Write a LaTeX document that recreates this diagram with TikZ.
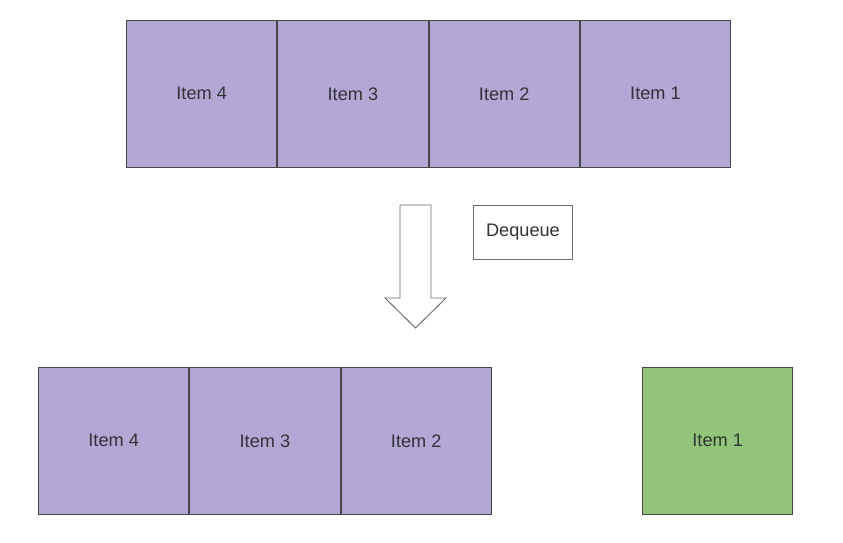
\documentclass[tikz,border=0pt]{standalone}
\usepackage{fontspec}
\setmainfont{Liberation Sans}
\usetikzlibrary{positioning}
\definecolor{itempurple}{RGB}{179,167,214}
\definecolor{itemgreen}{RGB}{146,196,122}
\definecolor{edgegray}{RGB}{70,70,70}

\begin{document}
\begin{tikzpicture}[x=0.03cm,y=-0.03cm,
  item/.style={draw=edgegray,line width=0.8pt,fill=itempurple,minimum width=4.51cm,
    minimum height=4.4cm,inner sep=0pt,font=\fontsize{15.5}{18}\selectfont,text=black!80},
  done/.style={item,fill=itemgreen},
  label/.style={draw=edgegray!80,line width=0.8pt,fill=white,minimum width=2.97cm,
    minimum height=1.62cm,font=\fontsize{15.5}{18}\selectfont,text=black!80}]
\useasboundingbox (0,0) rectangle (843,543);
% queue before
\node[item,anchor=north west] (t4) at (126,20) {Item 4};
\node[item,right=0pt of t4] (t3) {Item 3};
\node[item,right=0pt of t3] (t2) {Item 2};
\node[item,right=0pt of t2] (t1) {Item 1};
% arrow
\draw[draw=edgegray!80,line width=0.8pt,fill=white]
  (400,205) -- (431,205) -- (431,298) -- (446,298) -- (415.5,328)
  -- (385,298) -- (400,298) -- cycle;
\node[label,anchor=north west] (deq) at (473,205) {Dequeue};
% queue after
\node[item,anchor=north west] (b4) at (38,367) {Item 4};
\node[item,right=0pt of b4] (b3) {Item 3};
\node[item,right=0pt of b3] (b2) {Item 2};
\node[done,anchor=north west] (out) at (642,367) {Item 1};
\end{tikzpicture}
\end{document}
